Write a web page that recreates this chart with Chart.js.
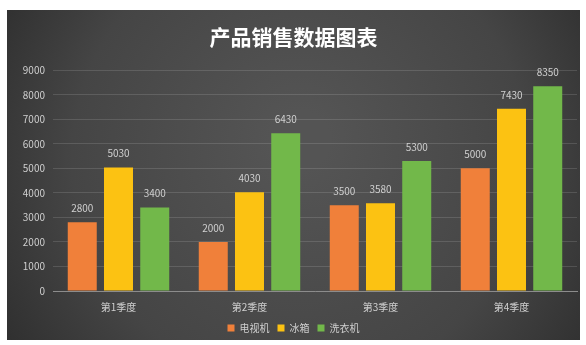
<!DOCTYPE html>
<html>
<head>
<meta charset="utf-8">
<script src="https://cdn.jsdelivr.net/npm/chart.js@4.4.1/dist/chart.umd.min.js"></script>
<style>
  html, body { margin: 0; padding: 0; background: #fff; }
  #wrap { width: 586px; height: 345px; position: relative; }
</style>
</head>
<body>
<div id="wrap"><canvas id="salesChart"></canvas></div>
<script>
const quarters = ["第1季度", "第2季度", "第3季度", "第4季度"];
const tvSales = [2800, 2000, 3500, 5000];
const fridgeSales = [5030, 4030, 3580, 7430];
const washerSales = [3400, 6430, 5300, 8350];
const yTicks = [0, 1000, 2000, 3000, 4000, 5000, 6000, 7000, 8000, 9000];

const FONT = '"Noto Sans CJK SC", "Noto Sans", sans-serif';

// dark panel behind the chart
const panelBg = {
    id: 'panelBg',
    beforeDraw(chart) {
        const ctx = chart.ctx;
        const w = chart.width, h = chart.height;
        ctx.save();
        ctx.fillStyle = '#ffffff';
        ctx.fillRect(0, 0, w, h);
        const x0 = 7, y0 = 10, x1 = 580, y1 = 340;
        const g = ctx.createRadialGradient(300, 140, 30, 300, 170, 360);
        g.addColorStop(0, '#545454');
        g.addColorStop(0.6, '#454545');
        g.addColorStop(1, '#2c2c2c');
        ctx.fillStyle = g;
        ctx.fillRect(x0, y0, x1 - x0, y1 - y0);
        ctx.restore();
    }
};

// value labels above the bars
const barValues = {
    id: 'barValues',
    afterDatasetsDraw(chart) {
        const ctx = chart.ctx;
        ctx.save();
        ctx.font = '10px ' + FONT;
        ctx.fillStyle = '#d0d0d0';
        ctx.textAlign = 'center';
        ctx.textBaseline = 'bottom';
        chart.data.datasets.forEach((ds, i) => {
            chart.getDatasetMeta(i).data.forEach((bar, j) => {
                ctx.fillText(ds.data[j], bar.x, bar.y - 9);
            });
        });
        ctx.restore();
    }
};

const ctx = document.getElementById('salesChart').getContext('2d');

const salesChart = new Chart(ctx, {
    type: 'bar',
    data: {
        labels: quarters,
        datasets: [{
            label: "电视机",
            data: tvSales,
            backgroundColor: '#f0803a',
            categoryPercentage: 0.83,
            barPercentage: 0.8
        },
        {
            label: "冰箱",
            data: fridgeSales,
            backgroundColor: '#fcc212',
            categoryPercentage: 0.83,
            barPercentage: 0.8
        },
        {
            label: "洗衣机",
            data: washerSales,
            backgroundColor: '#72b84a',
            categoryPercentage: 0.83,
            barPercentage: 0.8
        }]
    },
    options: {
        responsive: true,
        maintainAspectRatio: false,
        animation: false,
        layout: {
            padding: { left: 10, right: 9, top: 12, bottom: 2 }
        },
        scales: {
            x: {
                grid: { display: false },
                border: { color: '#8c8c8c', width: 1 },
                ticks: { color: '#cfcfcf', font: { family: FONT, size: 10 }, padding: 2 }
            },
            y: {
                min: 0,
                max: 9000,
                afterBuildTicks(scale) {
                    scale.ticks = yTicks.map(v => ({ value: v }));
                },
                afterFit(scale) { scale.width = 43; },
                grid: { color: 'rgba(255,255,255,0.13)', drawTicks: false },
                border: { display: false },
                ticks: {
                    color: '#cfcfcf',
                    font: { family: FONT, size: 10 },
                    padding: 8,
                    callback: v => String(v)
                }
            }
        },
        plugins: {
            title: {
                display: true,
                text: '产品销售数据图表',
                color: '#ffffff',
                font: { family: FONT, size: 21, weight: 'bold' },
                padding: { top: 12, bottom: 21 }
            },
            legend: {
                display: true,
                position: 'bottom',
                labels: {
                    color: '#cfcfcf',
                    font: { family: FONT, size: 10 },
                    boxWidth: 7,
                    boxHeight: 7,
                    padding: 8
                }
            },
            tooltip: { enabled: false }
        }
    },
    plugins: [panelBg, barValues]
});
</script>
</body>
</html>
